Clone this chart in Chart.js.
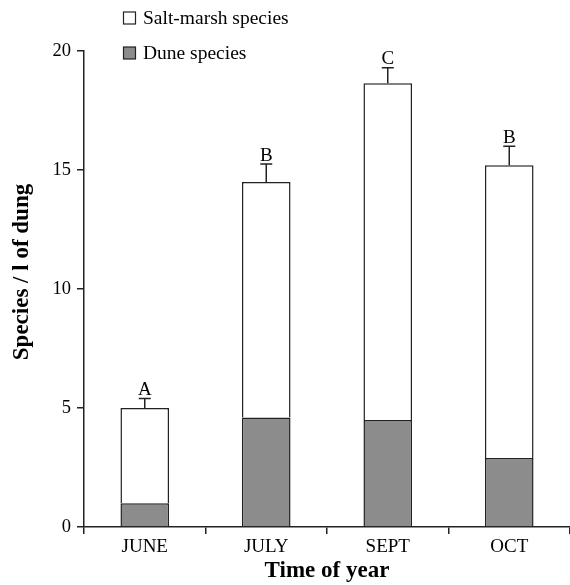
<!DOCTYPE html>
<html>
<head>
<meta charset="utf-8">
<script src="https://cdn.jsdelivr.net/npm/chart.js@4"></script>
<style>
  html, body { margin: 0; padding: 0; background: #fff; }
  #wrap { width: 570px; height: 585px; }
</style>
</head>
<body>
<div id="wrap"><canvas id="chart"></canvas></div>
<script>
// data
const months = ['JUNE', 'JULY', 'SEPT', 'OCT'];
const duneSpecies = [1.0, 4.6, 4.5, 2.9];
const saltMarshSpecies = [4.0, 9.9, 14.15, 12.3];
const totalErrors = [0.4, 0.75, 0.65, 0.8];
const groupLetters = ['A', 'B', 'C', 'B'];
const yTitle = 'Species / l of dung';

const SERIF = "'Liberation Serif', 'DejaVu Serif', serif";
const INK = '#222';

// error bars (upper half only) + letters above them
const errorBarPlugin = {
    id: 'errorBars',
    afterDatasetsDraw(chart) {
        const ctx = chart.ctx;
        const y = chart.scales.y;
        const meta = chart.getDatasetMeta(1);
        ctx.save();
        ctx.strokeStyle = INK;
        ctx.lineWidth = 1.5;
        ctx.fillStyle = '#000';
        ctx.font = '19px ' + SERIF;
        ctx.textAlign = 'center';
        ctx.textBaseline = 'bottom';
        meta.data.forEach((bar, i) => {
            const total = duneSpecies[i] + saltMarshSpecies[i];
            const yTop = y.getPixelForValue(total);
            const yCap = y.getPixelForValue(total + totalErrors[i]);
            ctx.beginPath();
            ctx.moveTo(bar.x, yTop);
            ctx.lineTo(bar.x, yCap);
            ctx.moveTo(bar.x - 6, yCap);
            ctx.lineTo(bar.x + 6, yCap);
            ctx.stroke();
            ctx.fillText(groupLetters[i], bar.x, yCap + 1);
        });
        ctx.restore();
    }
};

// little boxed legend at the top left, and the y title (sits a bit above centre)
const boxLegendPlugin = {
    id: 'boxLegend',
    afterDraw(chart) {
        const ctx = chart.ctx;
        const items = [chart.data.datasets[1], chart.data.datasets[0]];
        ctx.save();
        ctx.font = '19.5px ' + SERIF;
        ctx.textBaseline = 'middle';
        ctx.textAlign = 'left';
        items.forEach((ds, k) => {
            const cy = 18 + k * 35;
            ctx.fillStyle = ds.backgroundColor;
            ctx.fillRect(123.5, cy - 6, 12, 12);
            ctx.strokeStyle = INK;
            ctx.lineWidth = 1.2;
            ctx.strokeRect(123.5, cy - 6, 12, 12);
            ctx.fillStyle = '#000';
            ctx.fillText(ds.label, 143, cy + 1);
        });

        ctx.translate(22, 272);
        ctx.rotate(-Math.PI / 2);
        ctx.font = 'bold 23px ' + SERIF;
        ctx.textAlign = 'center';
        ctx.fillText(yTitle, 0, 0);
        ctx.restore();
    }
};

const ctx = document.getElementById('chart').getContext('2d');

new Chart(ctx, {
    type: 'bar',
    data: {
        labels: months,
        datasets: [
            {
                label: 'Dune species',
                data: duneSpecies,
                backgroundColor: '#8c8c8c',
                borderColor: INK,
                borderWidth: 1.5,
                borderSkipped: 'start'
            },
            {
                label: 'Salt-marsh species',
                data: saltMarshSpecies,
                backgroundColor: '#ffffff',
                borderColor: INK,
                borderWidth: 1.5,
                borderSkipped: 'start'
            }
        ]
    },
    options: {
        responsive: true,
        maintainAspectRatio: false,
        animation: false,
        datasets: {
            bar: { barPercentage: 0.4, categoryPercentage: 1.0 }
        },
        layout: { padding: { top: 51, right: 0, bottom: 0, left: 0 } },
        plugins: {
            legend: { display: false },
            tooltip: { enabled: false }
        },
        scales: {
            x: {
                stacked: true,
                afterFit: (scale) => { scale.height = 58; },
                border: { display: true, color: INK, width: 1.5 },
                grid: {
                    offset: true,
                    drawOnChartArea: false,
                    drawTicks: true,
                    tickLength: 7,
                    color: INK,
                    lineWidth: 1.5
                },
                ticks: {
                    font: { size: 19, family: SERIF },
                    color: '#000',
                    padding: 2
                },
                title: {
                    display: true,
                    text: 'Time of year',
                    font: { size: 23, weight: 'bold', family: SERIF },
                    color: '#000',
                    padding: { top: 0, bottom: 0 }
                }
            },
            y: {
                stacked: true,
                min: 0,
                max: 20,
                afterFit: (scale) => { scale.width = 84; },
                border: { display: true, color: INK, width: 1.5 },
                grid: {
                    drawOnChartArea: false,
                    drawTicks: true,
                    tickLength: 7,
                    color: INK,
                    lineWidth: 1.5
                },
                ticks: {
                    stepSize: 5,
                    font: { size: 18.5, family: SERIF },
                    color: '#000',
                    padding: 6
                }
            }
        }
    },
    plugins: [errorBarPlugin, boxLegendPlugin]
});
</script>
</body>
</html>
